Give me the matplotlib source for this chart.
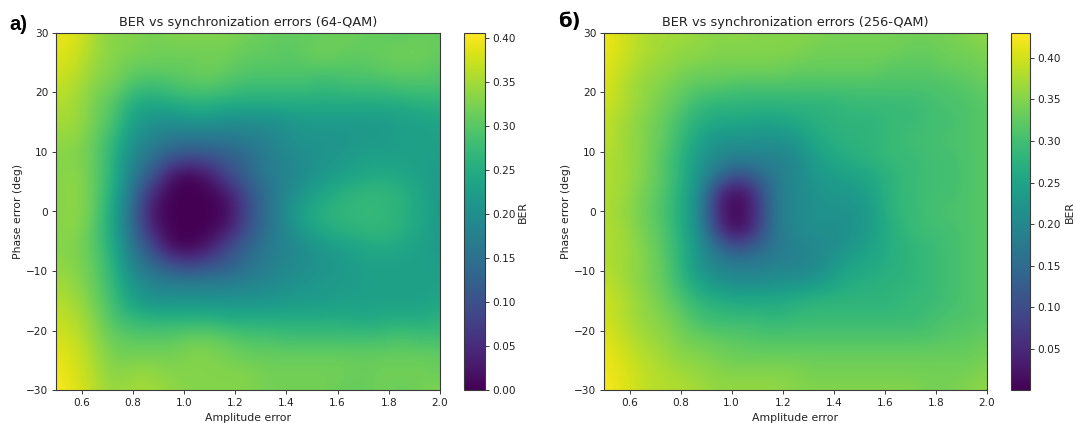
import numpy as np
import matplotlib
matplotlib.use("Agg")
import matplotlib.pyplot as plt
from matplotlib.ticker import FormatStrFormatter

amplitude = [0.5,0.575,0.65,0.725,0.8,0.875,0.95,1.025,1.1,1.175,1.25,1.325,1.4,1.475,1.55,1.625,1.7,1.775,1.85,1.925,2.0]
phase = [30,27,24,21,18,15,12,9,6,3,0,-3,-6,-9,-12,-15,-18,-21,-24,-27,-30]

ber_64 = [
[.39,.39,.35,.33,.33,.32,.33,.33,.33,.33,.32,.31,.31,.31,.31,.32,.31,.31,.30,.31,.31],
[.39,.38,.35,.33,.33,.32,.32,.32,.32,.32,.31,.31,.30,.31,.32,.31,.31,.31,.32,.32,.31],
[.38,.37,.34,.33,.31,.31,.31,.31,.32,.31,.30,.30,.30,.30,.30,.30,.30,.31,.31,.31,.30],
[.37,.36,.33,.32,.29,.28,.29,.30,.30,.29,.28,.28,.28,.28,.27,.28,.28,.28,.29,.29,.29],
[.36,.35,.32,.30,.25,.24,.25,.26,.26,.25,.25,.25,.25,.25,.25,.25,.25,.25,.25,.26,.26],
[.35,.35,.32,.29,.23,.21,.20,.21,.21,.20,.20,.20,.21,.22,.22,.22,.22,.22,.23,.23,.24],
[.34,.34,.31,.27,.21,.18,.16,.16,.16,.16,.17,.18,.20,.21,.21,.21,.22,.22,.23,.23,.23],
[.33,.33,.31,.26,.19,.15,.11,.09,.10,.12,.14,.17,.19,.20,.21,.22,.23,.23,.23,.23,.23],
[.33,.34,.31,.26,.17,.11,.02,.00,.03,.09,.13,.17,.18,.20,.22,.23,.24,.25,.24,.23,.22],
[.33,.34,.31,.25,.15,.05,.00,.00,.00,.03,.10,.15,.19,.22,.24,.26,.27,.27,.26,.24,.22],
[.33,.34,.31,.24,.14,.02,.00,.00,.00,.01,.09,.15,.20,.24,.26,.27,.27,.27,.26,.24,.22],
[.33,.34,.30,.24,.14,.04,.00,.00,.00,.03,.10,.15,.19,.23,.25,.26,.27,.27,.26,.24,.22],
[.33,.33,.30,.25,.16,.09,.01,.00,.03,.09,.13,.17,.18,.20,.22,.23,.24,.25,.24,.23,.22],
[.34,.33,.31,.26,.18,.14,.10,.08,.10,.12,.15,.17,.19,.20,.21,.22,.23,.23,.23,.23,.23],
[.35,.34,.31,.27,.21,.18,.17,.17,.17,.17,.18,.19,.20,.21,.22,.22,.23,.23,.23,.23,.23],
[.36,.35,.32,.28,.23,.21,.21,.21,.21,.21,.21,.21,.22,.22,.22,.23,.23,.23,.23,.23,.24],
[.37,.36,.33,.29,.27,.26,.26,.26,.26,.25,.25,.25,.25,.25,.25,.25,.24,.25,.25,.25,.26],
[.38,.37,.34,.31,.30,.30,.30,.31,.31,.30,.29,.29,.28,.28,.28,.28,.28,.28,.29,.28,.28],
[.39,.38,.35,.32,.32,.32,.32,.33,.33,.32,.31,.31,.31,.31,.31,.31,.31,.31,.31,.31,.31],
[.40,.38,.36,.33,.34,.34,.33,.33,.33,.33,.33,.32,.32,.32,.32,.32,.31,.32,.32,.32,.31],
[.405,.39,.36,.34,.35,.35,.34,.33,.33,.33,.33,.32,.32,.32,.32,.31,.31,.32,.31,.32,.33],
]

ber_256 = [
[.42,.40,.38,.37,.37,.36,.35,.36,.35,.35,.35,.35,.34,.34,.34,.34,.34,.34,.34,.35,.36],
[.42,.40,.38,.37,.36,.36,.35,.35,.35,.35,.35,.34,.34,.34,.34,.34,.33,.33,.34,.34,.35],
[.41,.39,.37,.36,.35,.34,.34,.34,.34,.34,.33,.33,.33,.33,.33,.32,.32,.32,.33,.33,.34],
[.41,.38,.36,.35,.33,.32,.32,.31,.31,.31,.31,.31,.31,.31,.31,.31,.31,.31,.31,.32,.33],
[.40,.38,.36,.34,.32,.29,.28,.28,.28,.28,.28,.28,.28,.29,.29,.29,.29,.30,.31,.31,.32],
[.39,.37,.35,.33,.30,.27,.26,.26,.25,.25,.26,.27,.28,.28,.28,.29,.29,.30,.30,.31,.32],
[.39,.37,.35,.33,.29,.25,.22,.22,.22,.22,.23,.26,.27,.28,.28,.29,.30,.30,.31,.31,.32],
[.38,.37,.35,.32,.28,.23,.20,.19,.19,.19,.20,.24,.26,.27,.28,.29,.29,.30,.30,.31,.32],
[.38,.37,.35,.32,.28,.22,.16,.10,.14,.18,.20,.23,.24,.25,.26,.28,.29,.30,.30,.31,.32],
[.38,.37,.34,.32,.27,.21,.05,.00,.07,.18,.20,.22,.23,.23,.25,.28,.29,.30,.30,.31,.32],
[.38,.36,.34,.31,.27,.20,.04,.00,.06,.18,.20,.22,.22,.22,.24,.28,.29,.30,.31,.31,.32],
[.38,.37,.34,.32,.27,.21,.06,.00,.07,.18,.20,.22,.21,.22,.24,.27,.29,.30,.30,.31,.32],
[.38,.37,.35,.32,.28,.22,.15,.10,.14,.17,.19,.20,.21,.23,.25,.27,.28,.29,.30,.31,.32],
[.38,.37,.35,.33,.28,.22,.19,.18,.18,.19,.19,.20,.23,.25,.26,.27,.28,.29,.30,.31,.32],
[.39,.37,.35,.33,.29,.25,.22,.21,.21,.22,.22,.23,.25,.27,.27,.28,.28,.29,.30,.31,.32],
[.40,.38,.36,.34,.31,.28,.27,.26,.26,.26,.27,.28,.28,.28,.28,.28,.29,.29,.30,.31,.32],
[.40,.38,.36,.35,.33,.30,.29,.29,.29,.28,.29,.29,.29,.29,.29,.29,.29,.30,.31,.31,.32],
[.41,.39,.37,.36,.34,.33,.32,.32,.31,.31,.31,.31,.31,.31,.31,.31,.31,.31,.32,.32,.33],
[.42,.40,.38,.37,.35,.35,.34,.33,.33,.33,.33,.33,.33,.33,.33,.33,.33,.33,.33,.33,.34],
[.42,.41,.39,.38,.37,.36,.35,.35,.35,.35,.35,.34,.34,.34,.34,.34,.34,.34,.34,.34,.35],
[.43,.41,.39,.38,.38,.37,.36,.36,.36,.36,.35,.35,.35,.35,.35,.35,.35,.34,.34,.35,.36],
]

titles = ["BER vs synchronization errors (64-QAM)", "BER vs synchronization errors (256-QAM)"]
x_label = "Amplitude error"
y_label = "Phase error (deg)"
cbar_label = "BER"

W, H = 1075, 423
fig = plt.figure(figsize=(W/100, H/100), dpi=100)

def box(l, t, r, b):
    return [l/W, 1-b/H, (r-l)/W, (b-t)/H]

panels = [
    (ber_64, titles[0], box(56,33,440,390), box(464,33,485,390), 0.0, 0.406, np.arange(0,0.41,0.05), 2),
    (ber_256, titles[1], box(604,33,987,390), box(1011,33,1030,390), 0.0005, 0.43, np.arange(0.05,0.41,0.05), 3),
]
FS = 7.8
TICK_FS = 7.6
EDGE = "#3a3a3a"
TEXT = "#222222"
dx = (amplitude[1] - amplitude[0]) / 2
dy = (phase[0] - phase[1]) / 2
extent = [amplitude[0] - dx, amplitude[-1] + dx, phase[-1] - dy, phase[0] + dy]
for data, title, apos, cpos, vmin, vmax, cticks, cpad in panels:
    ax = fig.add_axes(apos)
    cax = fig.add_axes(cpos)
    m = ax.imshow(np.array(data), extent=extent, origin="upper", aspect="auto",
                  interpolation="bicubic", cmap="viridis", vmin=vmin, vmax=vmax)
    ax.set_xlim(0.5, 2.0)
    ax.set_ylim(-30, 30)
    ax.set_xticks([0.6,0.8,1.0,1.2,1.4,1.6,1.8,2.0])
    ax.set_yticks([-30,-20,-10,0,10,20,30])
    ax.tick_params(labelsize=TICK_FS, length=3, width=0.7, pad=2.5, color=EDGE, labelcolor=TEXT)
    ax.set_title(title, fontsize=9.25, pad=5, color=TEXT)
    ax.set_xlabel(x_label, fontsize=FS, labelpad=4, color=TEXT)
    ax.set_ylabel(y_label, fontsize=FS, labelpad=2, color=TEXT)
    cb = fig.colorbar(m, cax=cax)
    cb.set_ticks(cticks)
    cb.ax.yaxis.set_major_formatter(FormatStrFormatter("%.2f"))
    cb.ax.tick_params(labelsize=TICK_FS, length=3, width=0.7, pad=2, color=EDGE, labelcolor=TEXT)
    cb.set_label(cbar_label, fontsize=FS, labelpad=cpad, color=TEXT)
    for spine in ax.spines.values():
        spine.set_edgecolor(EDGE)
    cb.outline.set_edgecolor(EDGE)

fig.text(9/W, 1-30/H, "а)", fontsize=14.5, fontweight="bold", family="Liberation Sans")
fig.text(558/W, 1-26.5/H, "б)", fontsize=14, fontweight="bold", family="DejaVu Sans")
fig.savefig("out.png", dpi=100)
